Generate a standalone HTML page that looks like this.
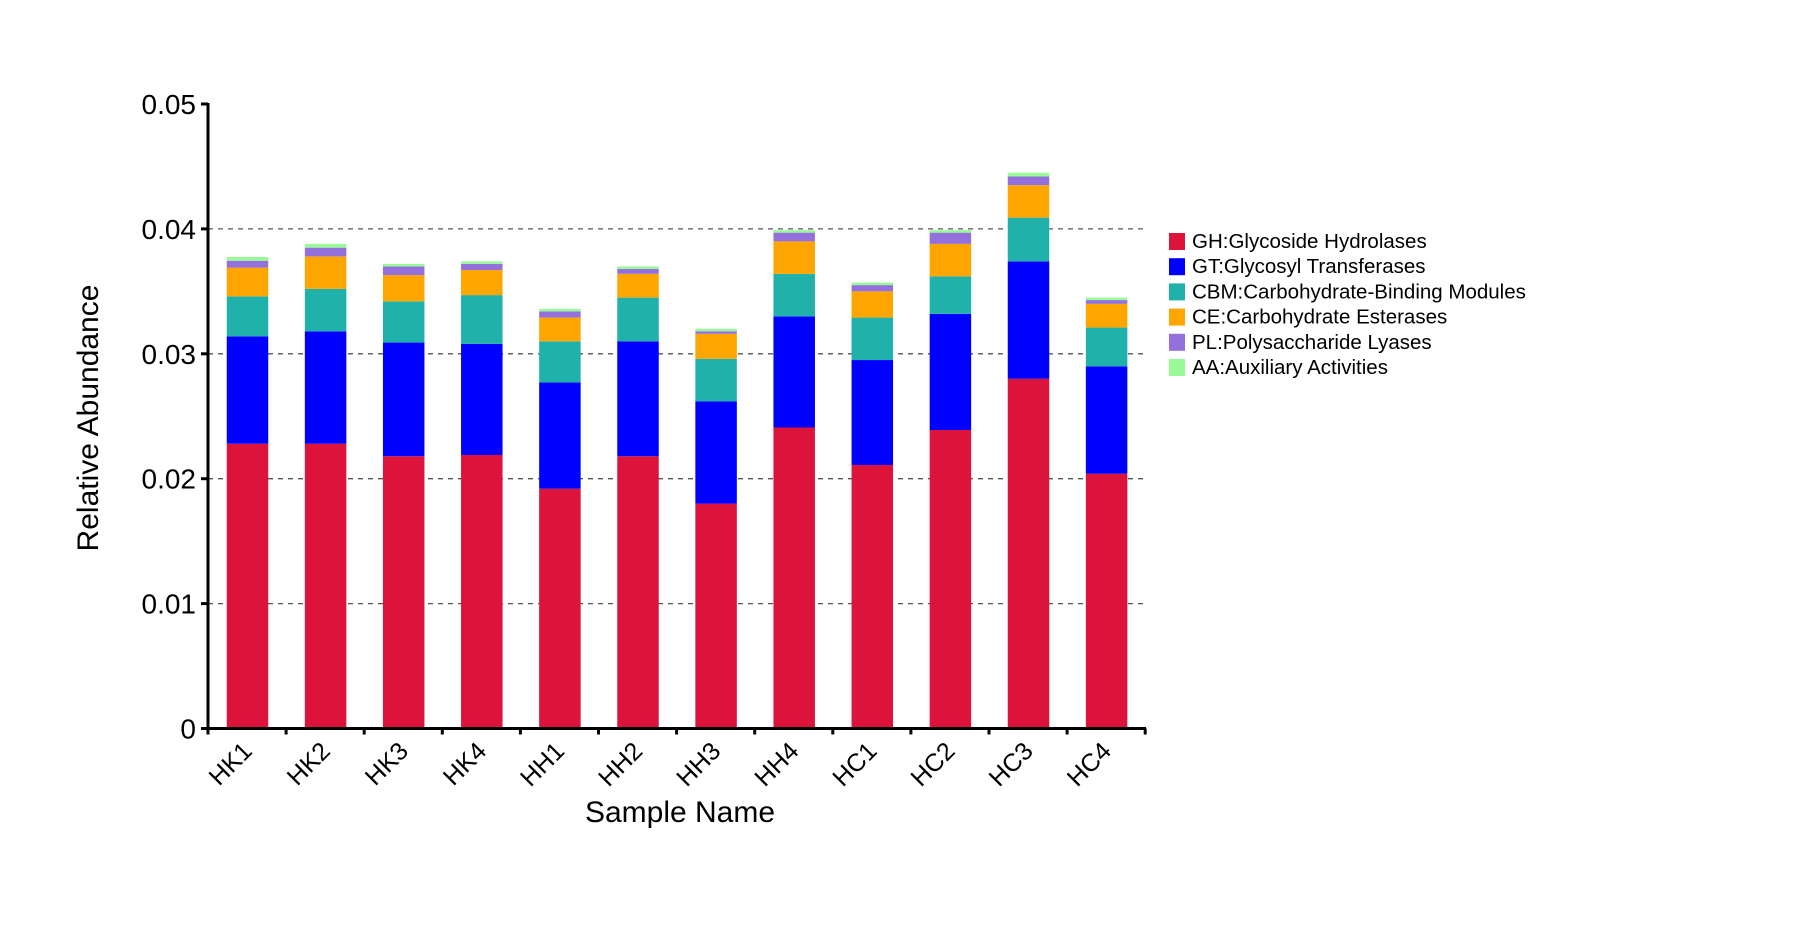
<!DOCTYPE html>
<html><head><meta charset="utf-8">
<style>
html,body{margin:0;padding:0;background:#fff;}
svg{display:block;font-family:"Liberation Sans",sans-serif;}
</style></head>
<body>
<svg id="chart" width="1812" height="937" viewBox="0 0 1812 937" xmlns="http://www.w3.org/2000/svg">
<g id="grid"></g>
<g id="bars"></g>
<g id="axes"></g>
<g id="legend"></g>
</svg>
<script>
const categories = ["HK1","HK2","HK3","HK4","HH1","HH2","HH3","HH4","HC1","HC2","HC3","HC4"];
const seriesNames = ["GH:Glycoside Hydrolases","GT:Glycosyl Transferases","CBM:Carbohydrate-Binding Modules","CE:Carbohydrate Esterases","PL:Polysaccharide Lyases","AA:Auxiliary Activities"];
const seriesColors = ["#DC143C","#0000FF","#20B2AA","#FFA500","#9370DB","#98FB98"];
const GH  = [0.0228,0.0228,0.0218,0.0219,0.0192,0.0218,0.0180,0.0241,0.0211,0.0239,0.0280,0.0204];
const GT  = [0.0086,0.0090,0.0091,0.0089,0.0085,0.0092,0.0082,0.0089,0.0084,0.0093,0.0094,0.0086];
const CBM = [0.0032,0.0034,0.0033,0.0039,0.0033,0.0035,0.0034,0.0034,0.0034,0.0030,0.0035,0.0031];
const CE  = [0.0023,0.0026,0.0021,0.0020,0.0019,0.0019,0.0020,0.0026,0.0021,0.0026,0.0026,0.0019];
const PL  = [0.00055,0.0007,0.0007,0.0005,0.0005,0.0004,0.0002,0.0007,0.0005,0.0009,0.0007,0.0003];
const AA  = [0.0003,0.0003,0.0002,0.0002,0.0002,0.0002,0.0002,0.0002,0.0002,0.0002,0.0003,0.0002];
const yTicks = [0,0.01,0.02,0.03,0.04,0.05];
const yTickLabels = ["0","0.01","0.02","0.03","0.04","0.05"];

const NS="http://www.w3.org/2000/svg";
const X0=208, X1=1146, Y0=728.5, PX_PER_UNIT=124.9/0.01, STEP=78.1, BW=41.5;
function y(v){return Y0 - v*PX_PER_UNIT;}
function xc(i){return 247.5 + i*STEP;}
function mk(tag,parent,attrs){const e=document.createElementNS(NS,tag);for(const k in attrs)e.setAttribute(k,attrs[k]);parent.appendChild(e);return e;}

const grid=document.getElementById('grid');
yTicks.forEach((t,i)=>{
  if(t===0 || t===0.05) return;
  const l=mk('line',grid,{x1:X0,x2:X1,y1:y(t),y2:y(t),stroke:'#555','stroke-width':1.3,'stroke-dasharray':'5,5'});
  
  
});

const bars=document.getElementById('bars');
const series=[GH,GT,CBM,CE,PL,AA];
categories.forEach((c,i)=>{
  let cum=0;
  series.forEach((s,k)=>{
    const v=s[i];
    const r=mk('rect',bars,{x:xc(i)-BW/2,y:y(cum+v),width:BW,height:v*PX_PER_UNIT,fill:seriesColors[k]});
    
    
    cum+=v;
  });
});

const axes=document.getElementById('axes');
let a=mk('line',axes,{x1:X0,x2:X0,y1:y(0.05)-1,y2:Y0+1.5,stroke:'#000','stroke-width':3});


a=mk('line',axes,{x1:X0-1.5,x2:X1,y1:Y0,y2:Y0,stroke:'#000','stroke-width':3});


yTicks.forEach((t,i)=>{
  mk('line',axes,{x1:X0-7,x2:X0,y1:y(t),y2:y(t),stroke:'#000','stroke-width':3});
  const tx=mk('text',axes,{x:X0-12,y:y(t)+10,'text-anchor':'end','font-size':28,fill:'#000'});
  tx.textContent=yTickLabels[i];
  
  
});
for(let i=0;i<=categories.length;i++){
  const xx=X0+i*STEP;
  mk('line',axes,{x1:xx,x2:xx,y1:Y0,y2:Y0+6,stroke:'#000','stroke-width':3});
}
categories.forEach((c,i)=>{
  const px=xc(i)+6, py=Y0+24;
  const t=mk('text',axes,{x:px,y:py,'text-anchor':'end','font-size':25,fill:'#000',transform:`rotate(-45 ${px} ${py})`});
  t.textContent=c;
  
  
});
let tt=mk('text',axes,{x:680,y:822,'text-anchor':'middle','font-size':30,fill:'#000'});
tt.textContent='Sample Name';


tt=mk('text',axes,{x:98,y:418,'text-anchor':'middle','font-size':30,fill:'#000',transform:'rotate(-90 98 418)'});
tt.textContent='Relative Abundance';



const legend=document.getElementById('legend');
seriesNames.forEach((n,k)=>{
  const ly=233+k*25.2;
  const g=mk('g',legend,{});
  
  
  mk('rect',g,{x:1169,y:ly,width:16,height:17,fill:seriesColors[k]});
  const t=mk('text',g,{x:1192,y:ly+15,'font-size':20.5,fill:'#000'});
  t.textContent=n;
});
</script>
</body></html>
